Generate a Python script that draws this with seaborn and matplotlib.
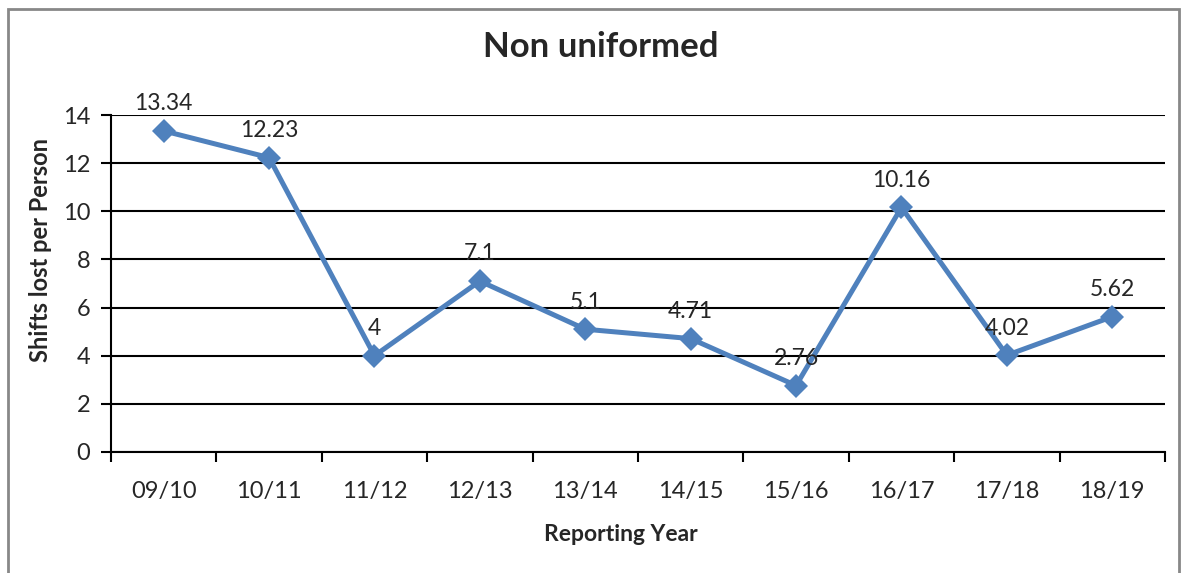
import pandas as pd
import numpy as np
import matplotlib.pyplot as plt
import seaborn as sns
from matplotlib.patches import Rectangle

# data
years = ['09/10', '10/11', '11/12', '12/13', '13/14', '14/15', '15/16', '16/17', '17/18', '18/19']
shifts = [13.34, 12.23, 4, 7.1, 5.1, 4.71, 2.76, 10.16, 4.02, 5.62]
labels = ['13.34', '12.23', '4', '7.1', '5.1', '4.71', '2.76', '10.16', '4.02', '5.62']

df = pd.DataFrame({'year': years, 'shifts': shifts})
df['pos'] = np.arange(len(years))

sns.set_style('white')
plt.rcParams['font.family'] = ['Lato', 'DejaVu Sans']

fig = plt.figure(figsize=(11.88, 5.73), dpi=100)
ax = fig.add_axes([0.0934, 0.2112, 0.8872, 0.5881])

blue = '#4F81BD'
sns.lineplot(data=df, x='pos', y='shifts', ax=ax, color=blue, linewidth=3.6,
             marker='D', markersize=12, markeredgecolor=blue, markeredgewidth=0)

for x, y, t in zip(df['pos'], shifts, labels):
    ax.annotate(t, (x, y), xytext=(0, 12), textcoords='offset points',
                ha='center', va='bottom', fontsize=16.5)

ax.set_xlim(-0.5, len(years) - 0.5)
ax.set_ylim(0, 14)
ax.set_yticks(range(0, 15, 2))
ax.set_xticks(range(len(years)))
ax.set_xticklabels(years)
ax.set_xticks(np.arange(-0.5, len(years), 1), minor=True)
ax.tick_params(axis='x', which='major', length=0, labelsize=17, pad=21)
ax.tick_params(axis='x', which='minor', length=7, width=1.5, color='black', direction='out')
ax.tick_params(axis='y', length=7, width=1.5, color='black', direction='out', labelsize=17, pad=8)
ax.tick_params(bottom=True, left=True, which='both')

ax.yaxis.grid(True, color='black', linewidth=1.5)
ax.set_axisbelow(True)
for s in ['top', 'right']:
    ax.spines[s].set_visible(False)
for s in ['left', 'bottom']:
    ax.spines[s].set_color('black')
    ax.spines[s].set_linewidth(1.5)

ax.set_xlabel('Reporting Year', fontsize=16.5, fontweight='bold')
ax.set_ylabel('Shifts lost per Person', fontsize=17, fontweight='bold')
ax.xaxis.set_label_coords(0.484, -0.214)
ax.yaxis.set_label_coords(-0.056, 0.6)
fig.text(0.506, 0.918, 'Non uniformed', ha='center', va='center',
         fontsize=25, fontweight='bold')

fig.patches.append(Rectangle((0.0067, -0.05), 0.986, 1.034, transform=fig.transFigure,
                             fill=False, edgecolor='#888888', linewidth=2, clip_on=False))

fig.savefig('out.png', dpi=100)
